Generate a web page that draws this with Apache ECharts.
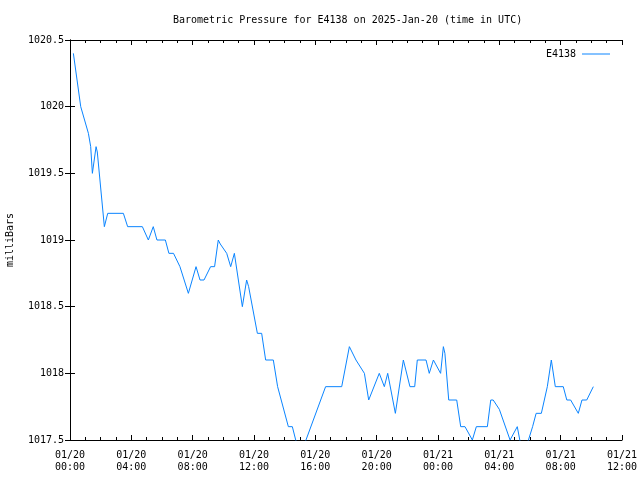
<!DOCTYPE html>
<html>
<head>
<meta charset="utf-8">
<script src="https://cdn.jsdelivr.net/npm/echarts@6/dist/echarts.min.js"></script>
<style>html,body{margin:0;padding:0;background:#fff}#c{width:640px;height:480px}</style>
</head>
<body>
<div id="c"></div>
<script>
// hours since 2025-01-20 00:00 UTC
var hours = [0.22,0.70,1.20,1.35,1.46,1.70,1.78,2.24,2.46,3.48,3.76,4.72,5.11,5.43,5.67,6.22,6.45,6.75,7.17,7.72,8.22,8.48,8.74,9.17,9.43,9.67,9.80,10.22,10.48,10.72,11.24,11.52,11.65,12.22,12.50,12.76,13.26,13.54,13.65,14.24,14.50,14.72,15.05,15.39,15.87,16.67,17.72,18.22,18.33,18.65,19.20,19.48,20.17,20.50,20.72,21.22,21.74,22.17,22.48,22.65,23.22,23.43,23.70,24.17,24.35,24.45,24.70,25.22,25.48,25.76,26.24,26.50,27.22,27.44,27.60,28.00,28.70,29.17,29.50,29.90,30.17,30.40,30.74,31.13,31.39,31.65,32.17,32.40,32.65,33.15,33.39,33.70,34.13];
var pressure = [1020.4,1020.0,1019.8,1019.7,1019.5,1019.7,1019.66,1019.1,1019.2,1019.2,1019.1,1019.1,1019.0,1019.1,1019.0,1019.0,1018.9,1018.9,1018.8,1018.6,1018.8,1018.7,1018.7,1018.8,1018.8,1019.0,1018.97,1018.9,1018.8,1018.9,1018.5,1018.7,1018.65,1018.3,1018.3,1018.1,1018.1,1017.9,1017.9,1017.6,1017.6,1017.5,1017.4,1017.5,1017.65,1017.9,1017.9,1018.2,1018.2,1018.1,1018.0,1017.8,1018.0,1017.9,1018.0,1017.7,1018.1,1017.9,1017.9,1018.1,1018.1,1018.0,1018.1,1018.0,1018.2,1018.15,1017.8,1017.8,1017.6,1017.6,1017.5,1017.6,1017.6,1017.8,1017.8,1017.73,1017.5,1017.6,1017.4,1017.5,1017.6,1017.7,1017.7,1017.9,1018.1,1017.9,1017.9,1017.8,1017.8,1017.7,1017.8,1017.8,1017.9];
var seriesName = 'E4138';
var titleText = 'Barometric Pressure for E4138 on 2025-Jan-20 (time in UTC)';
var yName = 'milliBars';

var FONT = '"DejaVu Sans Mono", "Liberation Mono", monospace';
var data = hours.map(function (h, i) { return [h, pressure[i]]; });
function xfmt(h) {
  var d = 20 + Math.floor(h / 24);
  var hh = Math.round(h % 24);
  return '01/' + d + '\n' + (hh < 10 ? '0' : '') + hh + ':00';
}
function yfmt(v) { return String(Math.round(v * 10) / 10); }
var baseX = {
  type: 'value', min: 0, max: 36, interval: 4,
  axisLine: { show: true, lineStyle: { color: '#000', width: 1 } },
  axisTick: { show: true, inside: true, length: 5, lineStyle: { color: '#000' } },
  minorTick: { show: true, splitNumber: 4, length: 3, lineStyle: { color: '#000' } },
  splitLine: { show: false }
};
var baseY = {
  type: 'value', min: 1017.5, max: 1020.5, interval: 0.5,
  axisLine: { show: true, lineStyle: { color: '#000', width: 1 } },
  axisTick: { show: true, inside: true, length: 5, lineStyle: { color: '#000' } },
  splitLine: { show: false }
};
var chart = echarts.init(document.getElementById('c'), null, { renderer: 'canvas' });
chart.setOption({
  animation: false,
  backgroundColor: '#fff',
  title: { text: titleText, left: 168, top: 10, textStyle: { fontFamily: FONT, fontSize: 10, fontWeight: 'normal', color: '#000' } },
  legend: {
    data: [{ name: seriesName, icon: 'rect' }], right: 25, top: 44, align: 'right',
    itemWidth: 28, itemHeight: 1, itemGap: 0,
    textStyle: { fontFamily: FONT, fontSize: 10, color: '#000', padding: [0, 1, 0, 0] }
  },
  grid: { left: 70, right: 18, top: 40, bottom: 40, show: false, containLabel: false, outerBoundsMode: 'none' },
  xAxis: [
    Object.assign({}, baseX, { position: 'bottom', axisLabel: { formatter: xfmt, fontFamily: FONT, fontSize: 10, color: '#000', margin: 9, lineHeight: 12 } }),
    Object.assign({}, baseX, { position: 'top', axisLabel: { show: false } })
  ],
  yAxis: [
    Object.assign({}, baseY, { position: 'left', name: yName, nameLocation: 'middle', nameGap: 55, nameRotate: 90,
      nameTextStyle: { fontFamily: FONT, fontSize: 10, color: '#000' },
      axisLabel: { formatter: yfmt, fontFamily: FONT, fontSize: 10, color: '#000', margin: 6 } }),
    Object.assign({}, baseY, { position: 'right', axisLabel: { show: false } })
  ],
  series: [{
    name: seriesName, type: 'line', data: data, symbol: 'none', clip: true,
    lineStyle: { color: '#0a84ff', width: 1 }, itemStyle: { color: '#0a84ff' }
  }]
});
</script>
</body>
</html>
